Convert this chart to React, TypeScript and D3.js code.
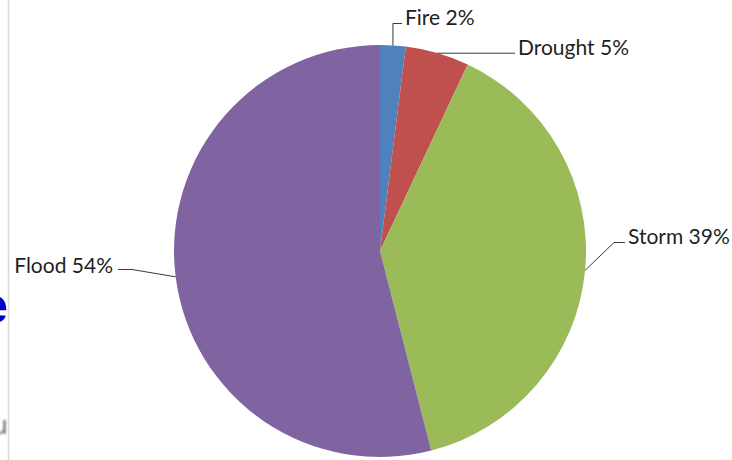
import React from "react";
import * as d3 from "d3";

// Share of disasters by type (percent)
const categories = ["Fire", "Drought", "Storm", "Flood"];
const shares = [2, 5, 39, 54];
const colors = ["#4F81BD", "#C0504D", "#9BBB59", "#8064A2"];

const W = 732;
const H = 460;
const cx = 380;
const cy = 251;
const R = 206;

// Where each callout label sits and where its leader line bends
type LabelSpot = {
  tx: number;
  ty: number;
  anchor: "start" | "end";
  bend: (ax: number, ay: number) => [number, number][];
};
const labelSpots: Record<string, LabelSpot> = {
  Fire: { tx: 405, ty: 25, anchor: "start", bend: (ax) => [[ax, 23.5], [402, 23.5]] },
  Drought: { tx: 518, ty: 55, anchor: "start", bend: (_ax, ay) => [[515, ay]] },
  Storm: { tx: 628, ty: 244, anchor: "start", bend: () => [[614, 242.5], [625, 242.5]] },
  Flood: { tx: 113, ty: 273, anchor: "end", bend: () => [[132, 269.5], [118, 269.5]] },
};

const FONT = "Lato, 'Open Sans', sans-serif";

export default function App() {
  const pie = d3
    .pie<number>()
    .sort(null)
    .value((d) => d);
  const arcs = pie(shares);
  const arcGen = d3.arc<d3.PieArcDatum<number>>().innerRadius(0).outerRadius(R);

  // Leader lines start at the middle of each slice's outer arc
  const leaders = arcs.map((a, i) => {
    const name = categories[i];
    const mid = (a.startAngle + a.endAngle) / 2;
    const ax = cx + R * Math.sin(mid);
    const ay = cy - R * Math.cos(mid);
    const spot = labelSpots[name];
    const pts: [number, number][] = [[ax, ay], ...spot.bend(ax, ay)];
    return { name, pts, spot, value: shares[i] };
  });

  const line = d3.line();

  return (
    <svg
      width={W}
      height={H}
      viewBox={`0 0 ${W} ${H}`}
      style={{ position: "absolute", left: 0, top: 0, background: "#fff" }}
    >
      <defs>
        <filter id="soft" x="-50%" y="-50%" width="200%" height="200%">
          <feGaussianBlur stdDeviation="1" />
        </filter>
      </defs>
      <rect width={W} height={H} fill="#fff" />

      {/* neighbouring slide content at the left edge */}
      <text
        x={8}
        y={323}
        textAnchor="end"
        fontFamily="'Liberation Sans', Arial, sans-serif"
        fontWeight="bold"
        fontSize={50}
        fill="#0000CC"
      >
        e
      </text>
      <g filter="url(#soft)" fill="#6e6e6e">
        <text x={-7} y={434} fontFamily="'Liberation Sans', sans-serif" fontSize={26}>
          u
        </text>
      </g>
      <line x1={8.5} y1={0} x2={8.5} y2={H} stroke="#d9d9d9" strokeWidth={1.5} />

      <g transform={`translate(${cx},${cy})`}>
        {arcs.map((a, i) => (
          <path key={categories[i]} d={arcGen(a) || ""} fill={colors[i]} />
        ))}
      </g>

      {leaders.map((l) => (
        <g key={l.name}>
          <path d={line(l.pts) || ""} fill="none" stroke="#3a3a3a" strokeWidth={1} />
          <text
            x={l.spot.tx}
            y={l.spot.ty}
            textAnchor={l.spot.anchor}
            fontFamily={FONT}
            fontSize={21}
            fill="#1f1f1f"
          >
            {`${l.name} ${l.value}%`}
          </text>
        </g>
      ))}
    </svg>
  );
}
